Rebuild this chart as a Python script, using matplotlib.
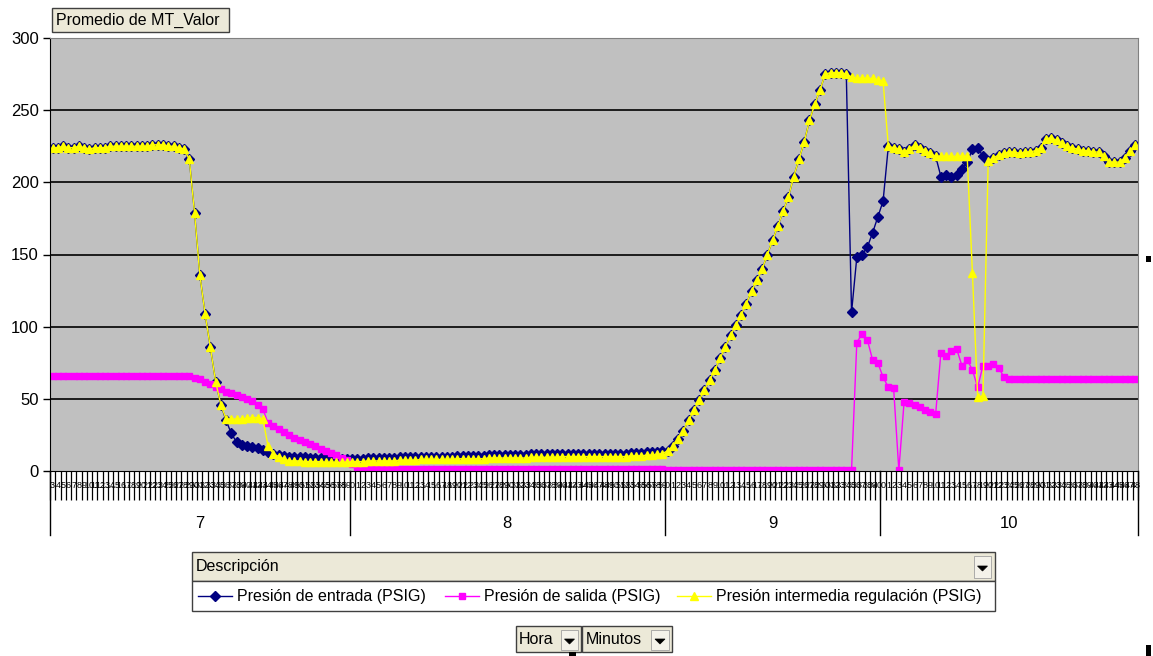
import matplotlib
matplotlib.use("Agg")
import matplotlib.pyplot as plt
import matplotlib.transforms as mtransforms
from matplotlib.patches import Rectangle, Polygon
from matplotlib.lines import Line2D

plt.rcParams['font.family'] = ['Liberation Sans', 'DejaVu Sans']

W, H = 1153, 656

# categorias: hora / minutos
horas = [7, 8, 9, 10]
minutos_7 = list(range(3, 60))
minutos_8 = list(range(0, 60))
minutos_9 = list(range(0, 41))
minutos_10 = list(range(0, 49))
minutos = minutos_7 + minutos_8 + minutos_9 + minutos_10
n_por_hora = [len(minutos_7), len(minutos_8), len(minutos_9), len(minutos_10)]

# Presion intermedia regulacion (PSIG)
intermedia = ([224, 224, 225, 224, 224, 225, 224, 223, 224, 224, 224, 225, 225,
               225, 225, 225, 225, 225, 225, 226, 226, 226, 225, 225, 224, 223]
              + [216, 179, 136, 109, 86, 62, 46, 36]
              + [36, 36, 36, 36.5, 37, 37, 36]
              + [17, 12, 10, 8.5]
              + [7, 7, 7, 6.5, 6.5, 6.5, 6.5, 6, 6, 6, 6, 6]
              + [6.5, 6.5, 6.5, 7, 7, 7, 7, 7, 7, 7.5,
                 7.5, 7.5, 7.5, 8, 8, 8, 8, 8, 8, 8,
                 8.5, 8.5, 8.5, 8.5, 8.5, 8.5, 9, 9, 9, 9,
                 9, 9, 9, 9, 9.5, 9.5, 9.5, 9.5, 9.5, 9.5,
                 10, 10, 10, 10, 10, 10, 10, 10, 10, 10,
                 10, 10, 10, 10.5, 10.5, 10.5, 11, 11, 11.5, 12]
              + [14, 17, 22, 28, 35, 42, 49, 56, 63, 70, 78, 86, 94, 101, 108,
                 116, 125, 132, 140, 150, 160, 170, 180, 190, 204, 216, 228,
                 243, 254, 264, 275, 276, 276, 276, 275, 273, 272, 272, 272,
                 272, 271, 270]
              + [225, 224, 223, 221, 223, 226, 224, 222, 220, 218, 218, 218,
                 218, 218, 218, 218, 137, 51, 52]
              + [215, 217, 219, 220, 221, 221, 220, 221, 221, 222, 224, 230,
                 231, 229, 227, 225, 224, 223, 222, 222, 221, 221, 218, 214,
                 214, 214, 217, 222, 226])

# Presion de entrada (PSIG)
entrada = (intermedia[:33]
           + [35, 26, 20, 18, 17, 16.5, 16, 14.5, 13, 12, 11, 10.5]
           + [10, 10, 9.5, 9.5, 9, 9, 9, 9, 8.5, 8.5, 8.5, 8.5]
           + [8.5, 8.5, 8.5, 9, 9, 9, 9, 9, 9, 9.5,
              9.5, 9.5, 9.5, 10, 10, 10, 10, 10, 10, 10,
              10.5, 10.5, 10.5, 10.5, 10.5, 10.5, 11, 11, 11, 11,
              11, 11, 11, 11, 11.5, 11.5, 11.5, 11.5, 11.5, 11.5,
              12, 12, 12, 12, 12, 12, 12, 12, 12, 12,
              12, 12, 12, 12.5, 12.5, 12.5, 13, 13, 13.5, 14]
           + intermedia[117:152]
           + [110, 148, 150, 155, 165, 176, 187]
           + intermedia[159:168]
           + [218, 204, 205, 204, 205, 209, 214, 223, 224, 218]
           + intermedia[178:])

# Presion de salida (PSIG)
salida = ([66] * 26
          + [65.5, 64.5, 63.5, 62, 60, 58, 56.5, 55, 54, 52.7, 51.5, 50,
             48.5, 45.5, 43]
          + [33, 31, 29, 27, 25, 23, 21.5, 20, 19, 17, 15.5, 14, 12.5, 11,
             9, 7.5]
          + [5, 3, 2, 1.5]
          + [1.5] * 56
          + [1] * 35
          + [0.5]
          + [89, 95, 91, 77, 75, 65, 58, 57.5]
          + [0.5]
          + [48, 47, 45.5, 44, 42, 41, 39.5]
          + [82, 80, 83, 84.5, 73, 77, 70, 58, 73, 73, 74, 71.5, 65]
          + [64] * 25)

x = list(range(len(minutos)))

fig = plt.figure(figsize=(W / 100, H / 100), dpi=100)
ax = fig.add_axes([50 / W, 1 - 471 / H, 1088 / W, 433 / H])
ax.set_facecolor('#c0c0c0')

ax.plot(x, entrada, color='#000080', lw=1, marker='D', ms=4.8,
        markerfacecolor='#000080', markeredgecolor='#000080')
ax.plot(x, salida, color='#ff00ff', lw=1, marker='s', ms=4.8,
        markerfacecolor='#ff00ff', markeredgecolor='#ff00ff')
ax.plot(x, intermedia, color='#ffff00', lw=1, marker='^', ms=5.6,
        markerfacecolor='#ffff00', markeredgecolor='#ffff00')

ax.set_xlim(-0.5, len(minutos) - 0.5)
ax.set_ylim(0, 300)
ax.set_yticks([0, 50, 100, 150, 200, 250, 300])
ax.tick_params(axis='y', length=5, width=1, labelsize=12, pad=3)
for v in [50, 100, 150, 200, 250]:
    ax.axhline(v, color='black', lw=1.2, zorder=1)

ax.set_xticks([i - 0.5 for i in range(len(minutos) + 1)])
ax.set_xticklabels([])
ax.tick_params(axis='x', length=21, width=0.9, color='black')

ax.spines['left'].set_color('black')
ax.spines['bottom'].set_color('black')
ax.spines['top'].set_color('#808080')
ax.spines['right'].set_color('#808080')

trans = mtransforms.blended_transform_factory(ax.transData, fig.transFigure)

# etiquetas de minutos (se amontonan como en Excel)
for i, m in enumerate(minutos):
    ax.text(i, 1 - 486 / H, str(m), transform=trans, fontsize=6.5,
            ha='center', va='center', clip_on=False)

# separadores y etiquetas de hora
inicio = -0.5
limites = [inicio]
for n in n_por_hora:
    limites.append(limites[-1] + n)
for b in limites:
    fig.add_artist(Line2D([b, b], [1 - 471 / H, 1 - 535 / H], transform=trans,
                          color='black', lw=1))
for k, h in enumerate(horas):
    centro = (limites[k] + limites[k + 1]) / 2
    ax.text(centro, 1 - 523 / H, str(h), transform=trans, fontsize=12,
            ha='center', va='center', clip_on=False)


def caja(x0, y0, x1, y1, fc, ec='#404040', lw=1):
    fig.add_artist(Rectangle((x0 / W, 1 - y1 / H), (x1 - x0) / W, (y1 - y0) / H,
                             transform=fig.transFigure, facecolor=fc,
                             edgecolor=ec, lw=lw))


def flecha(x0, y0, x1, y1):
    caja(x0, y0, x1, y1, '#f4f2ea', ec='#a0a0a0', lw=0.6)
    cx = (x0 + x1) / 2
    cy = (y0 + y1) / 2 + 1
    pts = [((cx - 5) / W, 1 - (cy - 2) / H), ((cx + 5) / W, 1 - (cy - 2) / H),
           (cx / W, 1 - (cy + 3) / H)]
    fig.add_artist(Polygon(pts, closed=True, transform=fig.transFigure,
                           facecolor='black', edgecolor='black', lw=0.5))


# boton "Promedio de MT_Valor"
caja(52, 8, 229, 32, '#ece9d8')
fig.text(56 / W, 1 - 20 / H, 'Promedio de MT_Valor', fontsize=11.5,
         va='center', ha='left')

# campo Descripcion + leyenda
caja(192, 552, 995, 581, '#ece9d8')
flecha(974, 556, 991, 578)
fig.text(196 / W, 1 - 566 / H, 'Descripción', fontsize=11.5, va='center')
caja(192, 581, 995, 611, 'white')

entradas = [
    (198, 'Presión de entrada (PSIG)', '#000080', 'D', 4.8),
    (445, 'Presión de salida (PSIG)', '#ff00ff', 's', 4.8),
    (677, 'Presión intermedia regulación (PSIG)', '#ffff00', '^', 5.6),
]
for x0, etiqueta, color, marca, tam in entradas:
    yy = 1 - 596 / H
    fig.add_artist(Line2D([x0 / W, (x0 + 34) / W], [yy, yy],
                          transform=fig.transFigure, color=color, lw=1))
    fig.add_artist(Line2D([(x0 + 17) / W], [yy], transform=fig.transFigure,
                          marker=marca, ms=tam, color=color, lw=0))
    fig.text((x0 + 39) / W, yy, etiqueta, fontsize=11.5, va='center')

# botones Hora / Minutos
caja(516, 626, 581, 652, '#ece9d8')
fig.text(519 / W, 1 - 639 / H, 'Hora', fontsize=11.5, va='center')
flecha(561, 630, 578, 650)
caja(582, 626, 672, 652, '#ece9d8')
fig.text(586 / W, 1 - 639 / H, 'Minutos', fontsize=11.5, va='center')
flecha(651, 630, 669, 650)

# marcas sueltas
caja(1146, 256, 1151, 262, 'black', ec='black', lw=0)
caja(1146, 645, 1151, 656, 'black', ec='black', lw=0)
caja(569, 652, 576, 656, 'black', ec='black', lw=0)

fig.savefig('out.png', dpi=100, facecolor='white')
